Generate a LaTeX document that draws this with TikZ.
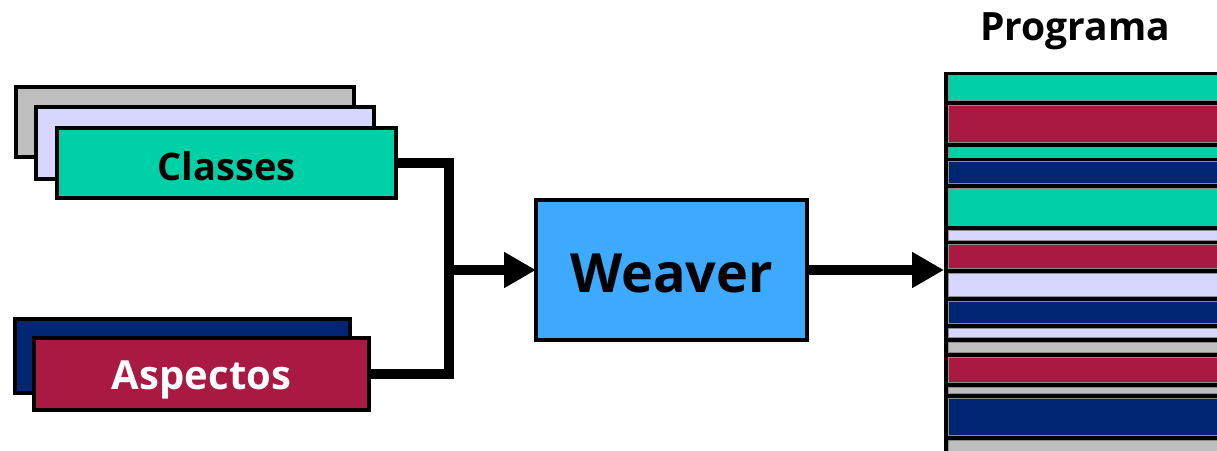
\documentclass[tikz,border=0pt]{standalone}
\usepackage{fontspec}
\setmainfont{Open Sans}
\usetikzlibrary{arrows.meta}
\definecolor{cteal}{RGB}{0,208,168}
\definecolor{ccrim}{RGB}{169,25,65}
\definecolor{cnavy}{RGB}{0,38,115}
\definecolor{clav}{RGB}{214,214,255}
\definecolor{cgray}{RGB}{190,190,190}
\definecolor{cblue}{RGB}{61,170,255}
\tikzset{
  card/.style={draw=black, line width=3.5pt, anchor=north west, inner sep=0pt, outer sep=0pt, text depth=0pt},
  conn/.style={line width=10pt, line join=miter},
  arr/.style={line width=10pt, -{Triangle[length=32pt,width=34pt]}},
  stripe/.style={draw=black!45, line width=0.8pt}
}
\begin{document}
\begin{tikzpicture}[x=1pt,y=-1pt]
\useasboundingbox (0,0) rectangle (1217,450);
% Classes stack
\node[card, fill=cgray, minimum width=338pt, minimum height=70pt] (c1) at (16,87) {};
\node[card, fill=clav, minimum width=338pt, minimum height=72pt] (c2) at (36,107) {};
\node[card, fill=cteal, minimum width=339pt, minimum height=70pt, text height=34pt,
      font=\fontsize{38}{42}\selectfont\bfseries] (cls) at (57,128) {Classes};
% Aspectos stack
\node[card, fill=cnavy, minimum width=335pt, minimum height=74pt] (a1) at (15,319) {};
\node[card, fill=ccrim, minimum width=335pt, minimum height=72pt, text=white, text height=30pt,
      font=\fontsize{40}{42}\selectfont\bfseries] (asp) at (34,338) {Aspectos};
% Weaver
\node[card, fill=cblue, minimum width=271pt, minimum height=140pt, text height=44pt,
      font=\fontsize{54}{58}\selectfont\bfseries] (wv) at (536,200) {Weaver};
% Program
\node[anchor=center, font=\fontsize{39}{42}\selectfont\bfseries] (ptitle) at (1075,31) {Programa};
\fill[black] (944,72) rectangle (1230,460);
\coordinate (prog) at (944,270);
\foreach \a/\b/\c in {75/100/cteal,105/142/ccrim,147/157/cteal,161/183/cnavy,188/225/cteal,
  230/240/clav,244/268/ccrim,273/296/clav,301/323/cnavy,328/337/clav,342/352/cgray,
  357/382/ccrim,387/393/cgray,398/435/cnavy,440/460/cgray}{
  \filldraw[stripe, fill=\c] (948,\a) rectangle (1230,\b);
}
% connectors
\coordinate (j) at (449,270);
\draw[conn] (cls.east) -| (j) |- (asp.east);
\draw[arr] (j) -- (wv.west);
\draw[arr] (wv.east) -- (prog);
\end{tikzpicture}
\end{document}
